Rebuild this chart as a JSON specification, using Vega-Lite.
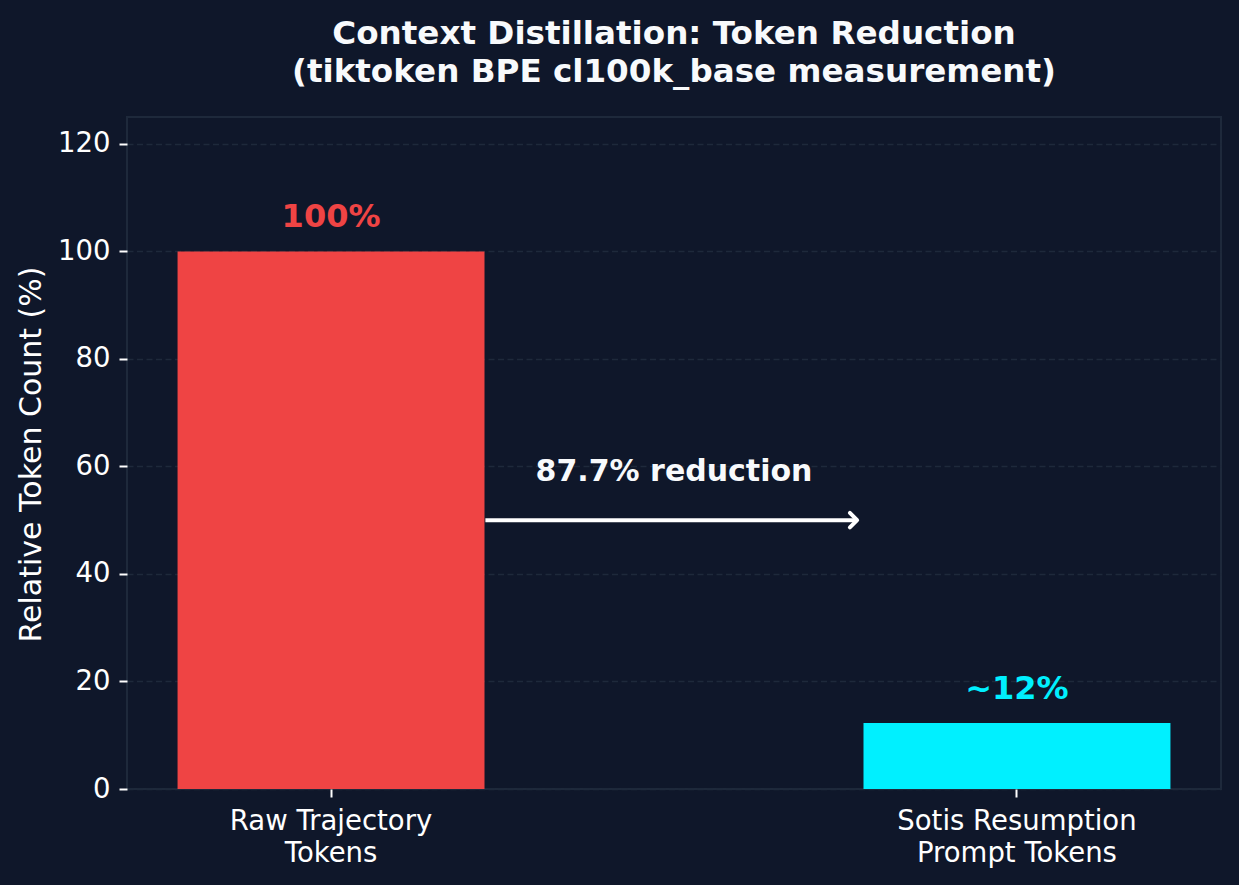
{
  "$schema": "https://vega.github.io/schema/vega-lite/v6.json",
  "width": 1094,
  "height": 672,
  "autosize": {"type": "none"},
  "padding": {"left": 127, "top": 117, "right": 18, "bottom": 96},
  "background": "#0f172a",
  "config": {
    "font": "DejaVu Sans",
    "view": {"stroke": "#1e293b", "strokeWidth": 2, "fill": "#0f172a"},
    "axis": {
      "domain": false,
      "labelColor": "#ffffff",
      "labelFont": "DejaVu Sans",
      "labelFontSize": 27.5,
      "labelLimit": 0,
      "tickColor": "#ffffff",
      "tickSize": 8,
      "tickWidth": 2,
      "titleFont": "DejaVu Sans",
      "titleColor": "#ffffff"
    },
    "axisY": {
      "grid": true,
      "gridColor": "#1e293b",
      "gridDash": [6, 3.5],
      "gridWidth": 1.3,
      "labelPadding": 9,
      "titleFontSize": 30,
      "titleFontWeight": "normal",
      "titleX": -96,
      "titleY": 337,
      "titleBaseline": "middle",
      "titleAlign": "center"
    }
  },
  "title": {
    "text": ["Context Distillation: Token Reduction", "(tiktoken BPE cl100k_base measurement)"],
    "font": "DejaVu Sans",
    "fontSize": 32.6,
    "fontWeight": "bold",
    "color": "#f8fafc",
    "lineHeight": 38,
    "anchor": "middle",
    "frame": "group",
    "offset": 28
  },
  "datasets": {
    "tokens": [
      {"source": "Raw Trajectory\nTokens", "share": 100, "label": "100%"},
      {"source": "Sotis Resumption\nPrompt Tokens", "share": 12.3, "label": "~12%"}
    ],
    "arrow": [{"start": 0.225, "end": 0.767, "level": 50}],
    "note": [{"pos": 0.5, "level": 59, "text": "87.7% reduction"}]
  },
  "layer": [
    {
      "data": {"name": "tokens"},
      "encoding": {
        "x": {
          "field": "source",
          "type": "nominal",
          "sort": null,
          "scale": {"paddingInner": 0.5525, "paddingOuter": 0.0737},
          "axis": {
            "title": null,
            "labelAngle": 0,
            "labelExpr": "split(datum.label, '\\n')",
            "labelLineHeight": 32,
            "labelPadding": 10,
            "grid": false
          }
        },
        "y": {
          "field": "share",
          "type": "quantitative",
          "title": "Relative Token Count (%)",
          "scale": {"domain": [0, 125], "nice": false},
          "axis": {"values": [0, 20, 40, 60, 80, 100, 120]}
        },
        "color": {
          "field": "source",
          "type": "nominal",
          "scale": {
            "domain": ["Raw Trajectory\nTokens", "Sotis Resumption\nPrompt Tokens"],
            "range": ["#ef4444", "#00f0ff"]
          },
          "legend": null
        }
      },
      "layer": [
        {"mark": {"type": "bar"}},
        {
          "mark": {"type": "text", "fontSize": 32, "fontWeight": "bold", "baseline": "middle", "align": "center", "dy": -34},
          "encoding": {"text": {"field": "label"}}
        }
      ]
    },
    {
      "layer": [
        {
          "data": {"name": "arrow"},
          "mark": {"type": "rule", "color": "#ffffff", "strokeWidth": 4},
          "encoding": {
            "x": {"field": "start", "type": "quantitative", "scale": {"domain": [-0.2975, 1.2975], "nice": false, "zero": false}, "axis": null},
            "x2": {"field": "end"},
            "y": {"field": "level", "type": "quantitative", "title": "Relative Token Count (%)", "scale": {"domain": [0, 125], "nice": false}}
          }
        },
        {
          "data": {"name": "arrow"},
          "mark": {"type": "point", "shape": "M-1,-1L0,0L-1,1", "filled": false, "stroke": "#ffffff", "strokeWidth": 4, "strokeCap": "round", "strokeJoin": "round", "size": 210, "opacity": 1},
          "encoding": {
            "x": {"field": "end", "type": "quantitative", "scale": {"domain": [-0.2975, 1.2975], "nice": false, "zero": false}, "axis": null},
            "y": {"field": "level", "type": "quantitative", "title": "Relative Token Count (%)", "scale": {"domain": [0, 125], "nice": false}}
          }
        },
        {
          "data": {"name": "note"},
          "mark": {"type": "text", "fontSize": 30, "fontWeight": "bold", "color": "#f8fafc", "baseline": "middle", "align": "center"},
          "encoding": {
            "x": {"field": "pos", "type": "quantitative", "scale": {"domain": [-0.2975, 1.2975], "nice": false, "zero": false}, "axis": null},
            "y": {"field": "level", "type": "quantitative", "title": "Relative Token Count (%)", "scale": {"domain": [0, 125], "nice": false}},
            "text": {"field": "text"}
          }
        }
      ]
    }
  ],
  "resolve": {"scale": {"x": "independent"}}
}
